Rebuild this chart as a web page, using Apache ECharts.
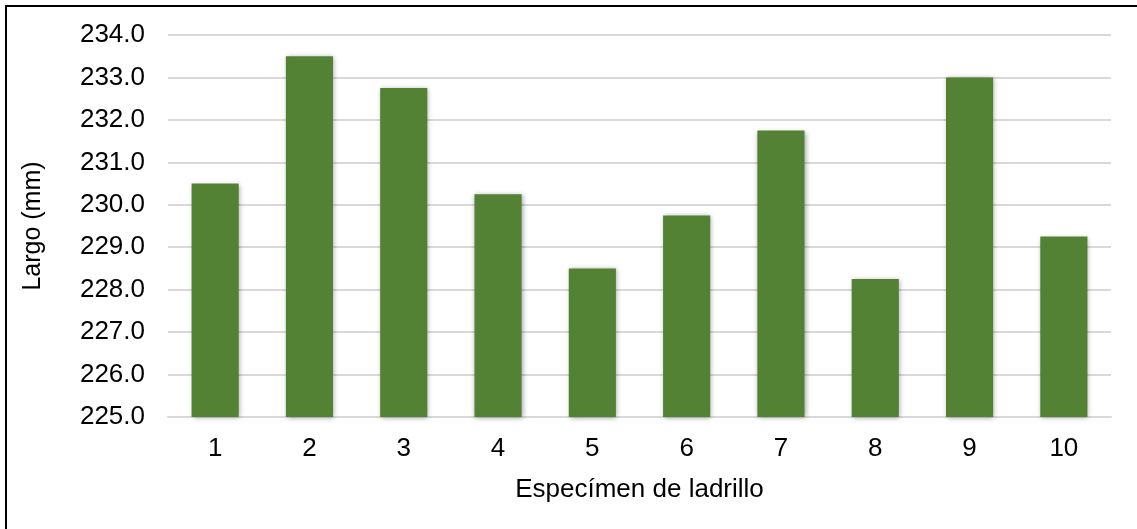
<!DOCTYPE html>
<html>
<head>
<meta charset="utf-8">
<script src="https://cdn.jsdelivr.net/npm/echarts@6/dist/echarts.min.js"></script>
<style>html,body{margin:0;padding:0;background:#fff}#c{width:1137px;height:529px}</style>
</head>
<body>
<div id="c"></div>
<script>
const categories = ['1','2','3','4','5','6','7','8','9','10'];
const largo = [230.5, 233.5, 232.75, 230.25, 228.5, 229.75, 231.75, 228.25, 233.0, 229.25];
const yMin = 225, yMax = 234, yStep = 1;

const chart = echarts.init(document.getElementById('c'));
const font = '"Liberation Sans", Arial, sans-serif';
chart.setOption({
  animation: false,
  backgroundColor: '#fff',
  grid: {left: 168, right: 26, top: 35, bottom: 112},
  graphic: [{
    type: 'rect', silent: true, z: 100,
    shape: {x: 6, y: 6, width: 1300, height: 700},
    style: {fill: 'none', stroke: '#000', lineWidth: 2}
  }],
  xAxis: {
    type: 'category', data: categories,
    name: 'Especímen de ladrillo', nameLocation: 'middle', nameGap: 60,
    nameTextStyle: {fontFamily: font, fontSize: 26, color: '#000'},
    axisLine: {lineStyle: {color: '#d9d9d9', width: 2}},
    axisTick: {show: false},
    axisLabel: {fontFamily: font, fontSize: 26, color: '#000', margin: 19}
  },
  yAxis: {
    type: 'value', min: yMin, max: yMax, interval: yStep,
    name: 'Largo (mm)', nameLocation: 'middle', nameGap: 122, nameRotate: 90,
    nameTextStyle: {fontFamily: font, fontSize: 25, color: '#000'},
    axisLine: {show: false}, axisTick: {show: false},
    splitLine: {lineStyle: {color: '#d9d9d9', width: 2}},
    axisLabel: {fontFamily: font, fontSize: 26, color: '#000', margin: 23,
      formatter: v => v.toFixed(1)}
  },
  series: [{
    type: 'bar', data: largo, barWidth: '50%',
    itemStyle: {color: '#548235', shadowBlur: 5, shadowColor: 'rgba(0,0,0,0.35)', shadowOffsetX: 1, shadowOffsetY: 1}
  }]
});
</script>
</body>
</html>
